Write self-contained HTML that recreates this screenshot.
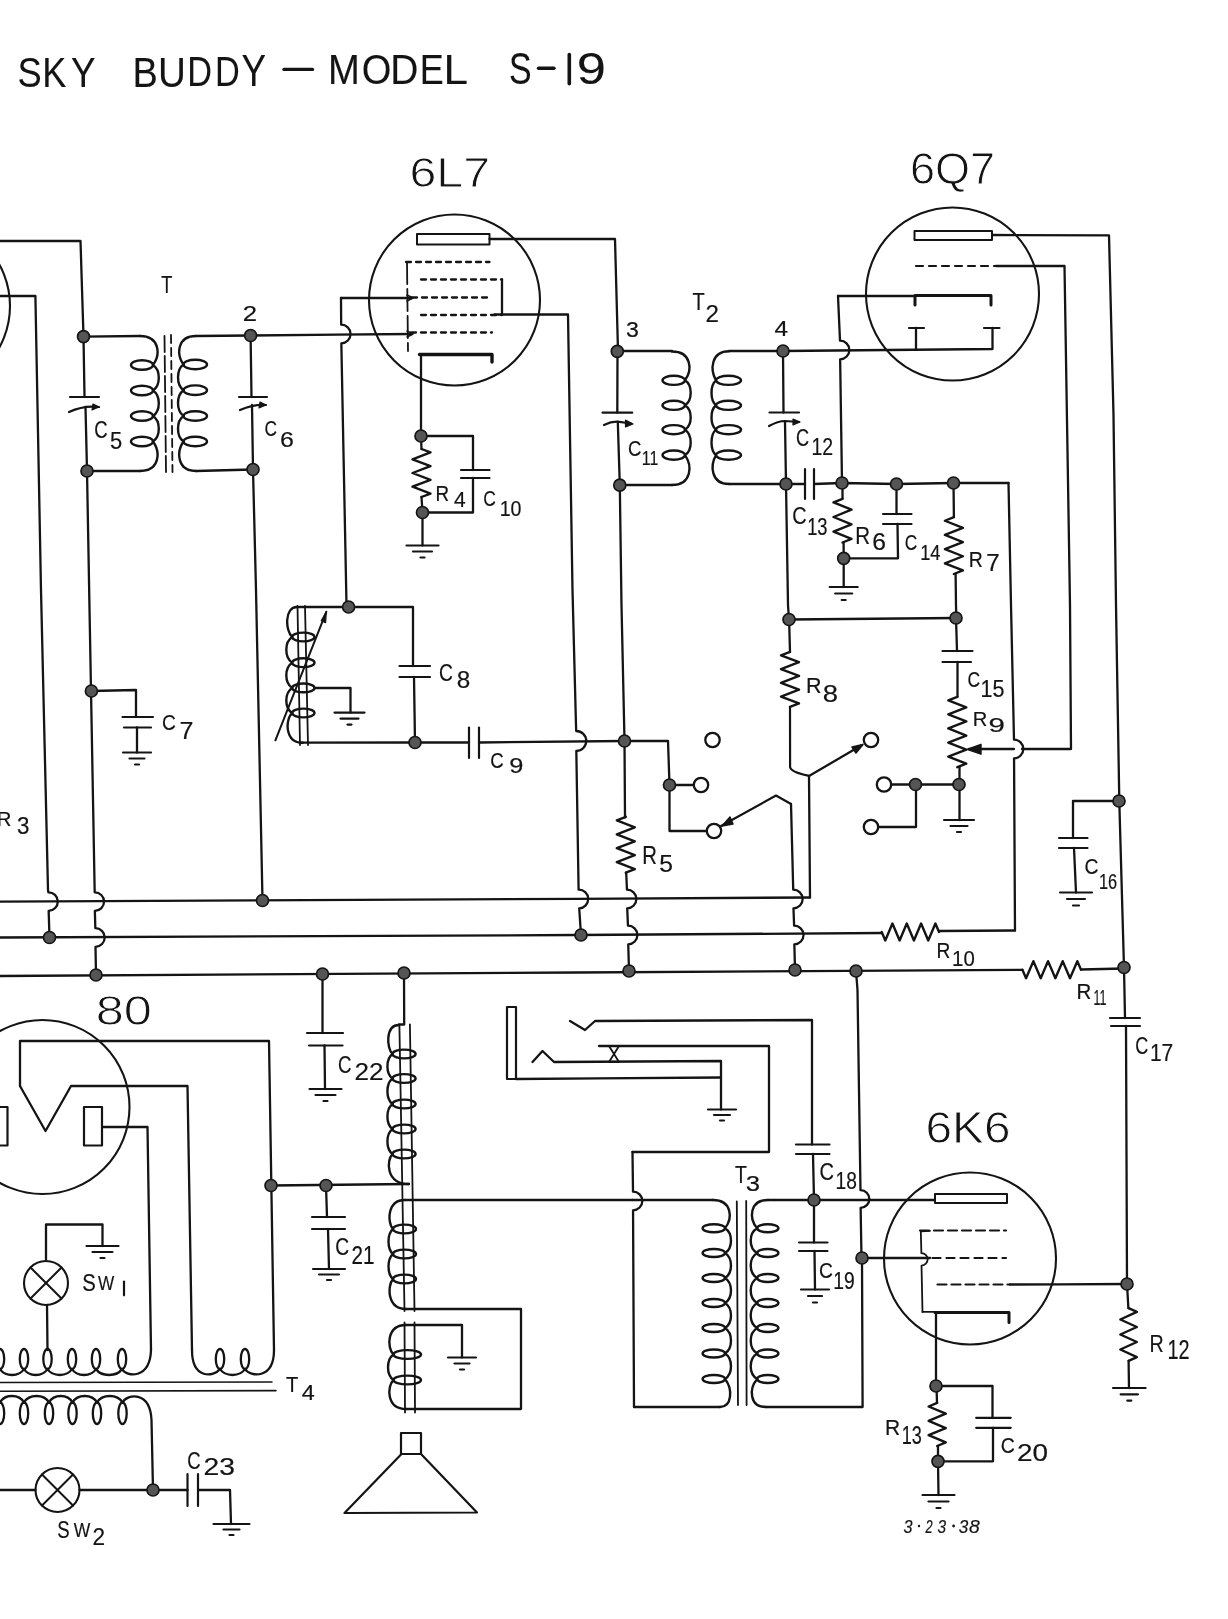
<!DOCTYPE html>
<html><head><meta charset="utf-8"><style>
html,body{margin:0;padding:0;background:#fff;width:1228px;height:1619px;overflow:hidden}
svg{display:block}
text{font-family:"Liberation Sans",sans-serif}
</style></head><body>
<svg width="1228" height="1619" viewBox="0 0 1228 1619">
<rect width="1228" height="1619" fill="#fff"/>
<g opacity="0.999" fill="none" stroke="#141414" stroke-linecap="round" stroke-linejoin="round">
<text transform="translate(17.46,87.1) scale(0.8535,1)" font-size="42.59" stroke="#141414" stroke-width="0.1" fill="#141414">S</text>
<text transform="translate(42.31,87.1) scale(0.8494,1)" font-size="42.59" stroke="#141414" stroke-width="0.1" fill="#141414">K</text>
<text transform="translate(70.98,86.8) scale(0.8606,1)" font-size="42.73" stroke="#141414" stroke-width="0.1" fill="#141414">Y</text>
<text transform="translate(132.56,86.5) scale(0.8910,1)" font-size="42.59" stroke="#141414" stroke-width="0.1" fill="#141414">B</text>
<text transform="translate(157.91,86.5) scale(0.9001,1)" font-size="42.88" stroke="#141414" stroke-width="0.1" fill="#141414">U</text>
<text transform="translate(187.36,86.3) scale(0.7996,1)" font-size="42.88" stroke="#141414" stroke-width="0.1" fill="#141414">D</text>
<text transform="translate(215.06,86.1) scale(0.7969,1)" font-size="43.02" stroke="#141414" stroke-width="0.1" fill="#141414">D</text>
<text transform="translate(241.38,85.8) scale(0.8434,1)" font-size="43.6" stroke="#141414" stroke-width="0.1" fill="#141414">Y</text>
<text transform="translate(327.94,84.1) scale(0.8972,1)" font-size="42.59" stroke="#141414" stroke-width="0.1" fill="#141414">M</text>
<text transform="translate(361.79,84.1) scale(0.8886,1)" font-size="42.88" stroke="#141414" stroke-width="0.1" fill="#141414">O</text>
<text transform="translate(390.18,84.1) scale(0.9094,1)" font-size="42.88" stroke="#141414" stroke-width="0.1" fill="#141414">D</text>
<text transform="translate(419.72,84.1) scale(0.8387,1)" font-size="42.88" stroke="#141414" stroke-width="0.1" fill="#141414">E</text>
<text transform="translate(443.48,84.1) scale(1.0272,1)" font-size="42.88" stroke="#141414" stroke-width="0.1" fill="#141414">L</text>
<text transform="translate(509.07,84.1) scale(0.7752,1)" font-size="43.75" stroke="#141414" stroke-width="0.1" fill="#141414">S</text>
<text transform="translate(576.64,84.1) scale(1.1994,1)" font-size="43.75" stroke="#141414" stroke-width="0.1" fill="#141414">9</text>
<line x1="284" y1="69.4" x2="312.5" y2="69.4" stroke-width="3.4"/>
<line x1="538.5" y1="68.2" x2="554" y2="68.2" stroke-width="3.4"/>
<line x1="569.3" y1="54.5" x2="569.3" y2="83.8" stroke-width="3.6"/>
<text transform="translate(409.38,187.3) scale(1.1167,1)" font-size="43.31" stroke="#fff" stroke-width="0.9" fill="#141414">6L7</text>
<text transform="translate(909.95,184.3) scale(1.0292,1)" font-size="43.75" stroke="#fff" stroke-width="0.9" fill="#141414">6Q7</text>
<text transform="translate(95.72,1025.3) scale(1.1678,1)" font-size="43.31" stroke="#fff" stroke-width="0.9" fill="#141414">80</text>
<text transform="translate(925.41,1143.3) scale(1.0965,1)" font-size="43.6" stroke="#fff" stroke-width="0.9" fill="#141414">6K6</text>
<circle cx="-76" cy="306" r="86" stroke-width="2.1"/>
<polyline points="0,241 80.5,241 83.5,336.6" stroke-width="2.3"/>
<polyline points="83.5,336.6 84.5,397" stroke-width="2.3"/>
<path d="M85.5,407 L87,471 L94.69,892.3 A9.3,9.3 0 0 1 94.86,910.9 L95.33,928.2 A9.3,9.3 0 0 1 95.5,946.8 L96,975" stroke-width="2.3" fill="none"/>
<path d="M0,296 L35.4,296 L41,590 L48,890 L48.37,892.3 A9.3,9.3 0 0 1 48.66,910.9 L49.5,937.5" stroke-width="2.3" fill="none"/>
<line x1="70" y1="397" x2="99" y2="397" stroke-width="2.2"/>
<path d="M69,412 Q84,405 99,407" stroke-width="2.2" fill="none"/>
<path d="M93,404 L99,407 L92,410 Z" stroke-width="1.2" fill="#141414"/>
<text transform="translate(94.28,437.5) scale(0.7683,1)" font-size="23.98" stroke="#141414" stroke-width="0.2" fill="#141414">C</text>
<text transform="translate(109.92,448.5) scale(0.9415,1)" font-size="23.26" stroke="#141414" stroke-width="0.2" fill="#141414">5</text>
<line x1="239" y1="397" x2="267" y2="397" stroke-width="2.2"/>
<path d="M240,410 Q254,404 266,405" stroke-width="2.2" fill="none"/>
<path d="M260,402 L266,405 L259,408 Z" stroke-width="1.2" fill="#141414"/>
<polyline points="250.6,335.5 251.5,397" stroke-width="2.3"/>
<path d="M252,405 L253,469.5 L256,590 L262.5,900.5" stroke-width="2.3" fill="none"/>
<text transform="translate(264.53,435.8) scale(0.7543,1)" font-size="22.97" stroke="#141414" stroke-width="0.2" fill="#141414">C</text>
<text transform="translate(280.05,446.8) scale(1.1218,1)" font-size="22.24" stroke="#141414" stroke-width="0.2" fill="#141414">6</text>
<text transform="translate(161.24,293.2) scale(0.7895,1)" font-size="23.11" stroke="#141414" stroke-width="0.2" fill="#141414">T</text>
<text transform="translate(242.71,320.7) scale(1.1716,1)" font-size="21.95" stroke="#141414" stroke-width="0.2" fill="#141414">2</text>
<polyline points="83.5,336.6 140,336" stroke-width="2.3"/>
<ellipse cx="142" cy="365" rx="11" ry="4.8" stroke-width="2.4"/>
<ellipse cx="142" cy="390.5" rx="11" ry="4.8" stroke-width="2.4"/>
<ellipse cx="142" cy="416" rx="11" ry="4.8" stroke-width="2.4"/>
<ellipse cx="142" cy="441.5" rx="11" ry="4.8" stroke-width="2.4"/>
<path d="M140,336 C159.96,336 160.54,354.85 153,365 C160.71,370.1 160.71,385.4 153,390.5 C160.71,395.6 160.71,410.9 153,416 C160.71,421.1 160.71,436.4 153,441.5 C160.54,451.82 159.96,471 140,471" stroke-width="2.4" fill="none"/>
<polyline points="87,471 140,471" stroke-width="2.3"/>
<ellipse cx="195.25" cy="364.5" rx="11.75" ry="4.8" stroke-width="2.4"/>
<ellipse cx="195.25" cy="390.2" rx="11.75" ry="4.8" stroke-width="2.4"/>
<ellipse cx="195.25" cy="416" rx="11.75" ry="4.8" stroke-width="2.4"/>
<ellipse cx="195.25" cy="441.5" rx="11.75" ry="4.8" stroke-width="2.4"/>
<path d="M196,336 C176.9,336 176.35,354.52 183.5,364.5 C176.19,369.64 176.19,385.06 183.5,390.2 C176.19,395.36 176.19,410.84 183.5,416 C176.19,421.1 176.19,436.4 183.5,441.5 C176.35,451.82 176.9,471 196,471" stroke-width="2.4" fill="none"/>
<polyline points="196,336 250.6,335.5" stroke-width="2.3"/>
<polyline points="196,471 253,469.5" stroke-width="2.3"/>
<line x1="164.5" y1="336" x2="166" y2="472" stroke-width="1.8" stroke-dasharray="16,4"/>
<line x1="171" y1="335" x2="172.5" y2="472" stroke-width="1.8" stroke-dasharray="8,5"/>
<circle cx="454.5" cy="300" r="85.5" stroke-width="2.1"/>
<rect x="417" y="234" width="72.5" height="10.5" stroke-width="2"/>
<polyline points="489.5,239 615,239 618,351" stroke-width="2.3"/>
<line x1="406" y1="262" x2="489.5" y2="262" stroke-width="2.3" stroke-dasharray="5,5"/>
<line x1="421" y1="279.5" x2="502" y2="279.5" stroke-width="2.3" stroke-dasharray="5,5"/>
<line x1="412" y1="297.5" x2="492" y2="297.5" stroke-width="2.3" stroke-dasharray="5,5"/>
<line x1="421" y1="315" x2="502" y2="315" stroke-width="2.3" stroke-dasharray="5,5"/>
<line x1="411" y1="332.5" x2="492" y2="332.5" stroke-width="2.3" stroke-dasharray="5,5"/>
<line x1="407" y1="262" x2="408" y2="351" stroke-width="1.8" stroke-dasharray="22,5"/>
<polyline points="502,279.5 502,314.5" stroke-width="2.3"/>
<path d="M494.5,314.5 L568,314.5 L572.5,590 L576,725 L576.19,731 A10,10 0 0 1 576.32,751 L578.6,889.7 A9.3,9.3 0 0 1 579.22,908.3 L581,935" stroke-width="2.3" fill="none"/>
<polyline points="412,298 341,298" stroke-width="2.3"/>
<path d="M341,298 L341.16,324.7 A9.3,9.3 0 0 1 341.34,343.3 L346.5,605 L348.6,607" stroke-width="2.3" fill="none"/>
<path d="M407,295 L413,298 L407,301" stroke-width="1.6" fill="none"/>
<polyline points="250.6,335.5 412,334" stroke-width="2.3"/>
<path d="M407,331 L413,334 L407,337" stroke-width="1.6" fill="none"/>
<polyline points="419.5,354.5 492,354.5 492,362" stroke-width="3.4"/>
<polyline points="421,354.5 421,436 421.5,449" stroke-width="2.3"/>
<polyline points="421.5,497 422.5,512.5 422.5,545.5" stroke-width="2.3"/>
<polyline points="421,436 473,436 473,470" stroke-width="2.3"/>
<polyline points="473,478 473,512.5 422.5,512.5" stroke-width="2.3"/>
<line x1="461" y1="470" x2="489.5" y2="470" stroke-width="2.2"/>
<line x1="461" y1="478" x2="489.5" y2="478" stroke-width="2.2"/>

<line x1="406.5" y1="545.5" x2="438.5" y2="545.5" stroke-width="2.2"/>
<line x1="413" y1="551.5" x2="432" y2="551.5" stroke-width="2.2"/>
<line x1="420.5" y1="557.5" x2="424.5" y2="557.5" stroke-width="2.2"/>
<polyline points="421.5,449 430.5,452.43 412.5,459.29 430.5,466.14 412.5,473 430.5,479.86 412.5,486.71 430.5,493.57 421.5,497" stroke-width="2.4"/>
<text transform="translate(435.49,501) scale(0.8750,1)" font-size="21.51" stroke="#141414" stroke-width="0.2" fill="#141414">R</text>
<text transform="translate(454.08,506.8) scale(0.9758,1)" font-size="21.51" stroke="#141414" stroke-width="0.2" fill="#141414">4</text>
<text transform="translate(483.33,506) scale(0.7612,1)" font-size="22.97" stroke="#141414" stroke-width="0.2" fill="#141414">C</text>
<text transform="translate(499.63,515.8) scale(0.8814,1)" font-size="22.24" stroke="#141414" stroke-width="0.2" fill="#141414">10</text>
<text transform="translate(625.97,336.7) scale(1.0346,1)" font-size="22.38" stroke="#141414" stroke-width="0.2" fill="#141414">3</text>
<polyline points="617.5,351 617.3,412.7" stroke-width="2.3"/>
<line x1="602.5" y1="412.7" x2="632.2" y2="412.7" stroke-width="2.2"/>
<path d="M604,425 Q611,421.5 617.6,421.7 L631,423.5" stroke-width="2.2" fill="none"/>
<path d="M625.5,420 L633,424 L625.5,427 Z" stroke-width="1.2" fill="#141414"/>
<path d="M617.8,422 L619.8,485.2 L621.5,605 L624.5,741 L625,817.5" stroke-width="2.3" fill="none"/>
<text transform="translate(628.07,455.7) scale(0.8092,1)" font-size="22.97" stroke="#141414" stroke-width="0.2" fill="#141414">C</text>
<text transform="translate(641.81,464.9) scale(0.7678,1)" font-size="20.64" stroke="#141414" stroke-width="0.2" fill="#141414">11</text>
<polyline points="618,351 672,351" stroke-width="2.3"/>
<ellipse cx="673.75" cy="380.3" rx="11.25" ry="4.6" stroke-width="2.4"/>
<ellipse cx="673.75" cy="405.3" rx="11.25" ry="4.6" stroke-width="2.4"/>
<ellipse cx="673.75" cy="429.7" rx="11.25" ry="4.6" stroke-width="2.4"/>
<ellipse cx="673.75" cy="455.1" rx="11.25" ry="4.6" stroke-width="2.4"/>
<path d="M672,351.5 C691.84,351.5 692.41,370.22 685,380.3 C692.58,385.3 692.58,400.3 685,405.3 C692.58,410.18 692.58,424.82 685,429.7 C692.58,434.78 692.58,450.02 685,455.1 C692.41,465.56 691.84,485 672,485" stroke-width="2.4" fill="none"/>
<polyline points="620,485 672,485" stroke-width="2.3"/>
<ellipse cx="728.5" cy="380.3" rx="12.5" ry="4.6" stroke-width="2.4"/>
<ellipse cx="728.5" cy="405.3" rx="12.5" ry="4.6" stroke-width="2.4"/>
<ellipse cx="728.5" cy="429.7" rx="12.5" ry="4.6" stroke-width="2.4"/>
<ellipse cx="728.5" cy="455.1" rx="12.5" ry="4.6" stroke-width="2.4"/>
<path d="M729,351.3 C710.6,351.3 710.15,370.15 716,380.3 C710.01,385.3 710.01,400.3 716,405.3 C710.01,410.18 710.01,424.82 716,429.7 C710.01,434.78 710.01,450.02 716,455.1 C710.15,465.22 710.6,484 729,484" stroke-width="2.4" fill="none"/>
<polyline points="729,351 783,351" stroke-width="2.3"/>
<polyline points="729,484 786,484" stroke-width="2.3"/>
<text transform="translate(692.5,310) scale(0.8654,1)" font-size="23.11" stroke="#141414" stroke-width="0.2" fill="#141414">T</text>
<text transform="translate(705.49,321.6) scale(1.0204,1)" font-size="23.69" stroke="#141414" stroke-width="0.2" fill="#141414">2</text>
<text transform="translate(774.61,335.5) scale(1.0881,1)" font-size="22.38" stroke="#141414" stroke-width="0.2" fill="#141414">4</text>
<polyline points="783,351 783.5,412.5" stroke-width="2.3"/>
<line x1="769.5" y1="412.5" x2="799" y2="412.5" stroke-width="2.2"/>
<path d="M769,426 Q778,421 785,421 L799,422" stroke-width="2.2" fill="none"/>
<path d="M793,419 L800,422 L793,425 Z" stroke-width="1.2" fill="#141414"/>
<path d="M785,422 L786,484 L788,605 L789,619.5" stroke-width="2.3" fill="none"/>
<text transform="translate(796.09,445.7) scale(0.7506,1)" font-size="24.13" stroke="#141414" stroke-width="0.2" fill="#141414">C</text>
<text transform="translate(811.54,455.4) scale(0.8030,1)" font-size="24.27" stroke="#141414" stroke-width="0.2" fill="#141414">12</text>
<polyline points="783,351 992.5,349 992.5,328" stroke-width="2.3"/>
<line x1="984" y1="328" x2="999.5" y2="328" stroke-width="2.2"/>
<polyline points="916,349.5 916,328" stroke-width="2.3"/>
<line x1="909" y1="328" x2="924" y2="328" stroke-width="2.2"/>
<polyline points="915,296 838,296" stroke-width="2.3"/>
<path d="M838,296 L840,340.7 A9.3,9.3 0 0 1 840.14,359.3 L842,483" stroke-width="2.3" fill="none"/>
<polyline points="786,484 805,484" stroke-width="2.3"/>
<line x1="805" y1="469" x2="805" y2="499" stroke-width="2.2"/>
<line x1="814" y1="469" x2="814" y2="499" stroke-width="2.2"/>
<polyline points="814,484 842,483 896.5,484 953.5,483 1008.5,483" stroke-width="2.3"/>
<text transform="translate(792.31,523.9) scale(0.8375,1)" font-size="23.69" stroke="#141414" stroke-width="0.2" fill="#141414">C</text>
<text transform="translate(807.13,535.4) scale(0.7915,1)" font-size="23.11" stroke="#141414" stroke-width="0.2" fill="#141414">13</text>
<polyline points="842.5,483 842.5,498.8" stroke-width="2.3"/>
<polyline points="842.5,498.8 833.5,502.44 851.5,509.73 833.5,517.01 851.5,524.29 833.5,531.58 851.5,538.86 842.5,542.5" stroke-width="2.4"/>
<polyline points="843.6,542.5 843.7,558.3 843.7,587" stroke-width="2.3"/>
<line x1="829.7" y1="587" x2="857.7" y2="587" stroke-width="2.2"/>
<line x1="835.2" y1="593.5" x2="852.2" y2="593.5" stroke-width="2.2"/>
<line x1="841.7" y1="600" x2="845.7" y2="600" stroke-width="2.2"/>
<text transform="translate(855.36,544.4) scale(0.8655,1)" font-size="23.69" stroke="#141414" stroke-width="0.2" fill="#141414">R</text>
<text transform="translate(872.26,550) scale(1.0439,1)" font-size="23.69" stroke="#141414" stroke-width="0.2" fill="#141414">6</text>
<polyline points="896.5,484 896.5,514" stroke-width="2.3"/>
<line x1="883" y1="514" x2="911.5" y2="514" stroke-width="2.2"/>
<line x1="883" y1="524" x2="911.5" y2="524" stroke-width="2.2"/>
<polyline points="897.5,524 898,558.3 843.7,558.3" stroke-width="2.3"/>
<text transform="translate(904.73,549.5) scale(0.7841,1)" font-size="22.09" stroke="#141414" stroke-width="0.2" fill="#141414">C</text>
<text transform="translate(920.13,559.8) scale(0.8581,1)" font-size="21.22" stroke="#141414" stroke-width="0.2" fill="#141414">14</text>
<polyline points="953.5,483 953.9,517.2" stroke-width="2.3"/>
<polyline points="953.9,517.2 944.9,520.75 962.9,527.85 944.9,534.95 962.9,542.05 944.9,549.15 962.9,556.25 944.9,563.35 962.9,570.45 953.9,574" stroke-width="2.4"/>
<path d="M955.6,574 L956,605 L956.3,618.6" stroke-width="2.3" fill="none"/>
<text transform="translate(968.74,566.5) scale(0.8824,1)" font-size="22.09" stroke="#141414" stroke-width="0.2" fill="#141414">R</text>
<text transform="translate(986.19,571.4) scale(1.0461,1)" font-size="23.11" stroke="#141414" stroke-width="0.2" fill="#141414">7</text>
<circle cx="952.5" cy="294" r="86.5" stroke-width="2.1"/>
<rect x="914.5" y="231" width="77.5" height="9" stroke-width="2"/>
<polyline points="992,235 1109,235.3 1113.5,415 1116,605 1119.3,801.5 1124,967.5 1125,1018" stroke-width="2.3"/>
<line x1="916" y1="266" x2="996" y2="266" stroke-width="2.2" stroke-dasharray="7,6"/>
<polyline points="996,266 1064.5,266 1070,605 1071,749 1022,749" stroke-width="2.3"/>
<polyline points="915,305 915,295.5 991,295.5 991,305" stroke-width="3"/>
<polyline points="91.4,691 136,690 136,717" stroke-width="2.3"/>
<line x1="122.5" y1="717" x2="153" y2="717" stroke-width="2.2"/>
<line x1="124" y1="727.5" x2="151" y2="727.5" stroke-width="2.2"/>
<polyline points="137,727.5 137,752.5" stroke-width="2.3"/>
<line x1="123" y1="752.5" x2="151" y2="752.5" stroke-width="2.2"/>
<line x1="129.5" y1="758.5" x2="144.5" y2="758.5" stroke-width="2.2"/>
<line x1="135" y1="764.5" x2="139" y2="764.5" stroke-width="2.2"/>
<text transform="translate(161.94,729.9) scale(0.8812,1)" font-size="21.8" stroke="#141414" stroke-width="0.2" fill="#141414">C</text>
<text transform="translate(179.55,739.1) scale(1.0575,1)" font-size="23.69" stroke="#141414" stroke-width="0.2" fill="#141414">7</text>
<text transform="translate(-3.13,826.2) scale(1.0139,1)" font-size="20.06" stroke="#141414" stroke-width="0.2" fill="#141414">R</text>
<text transform="translate(17.01,834.2) scale(0.9194,1)" font-size="24.27" stroke="#141414" stroke-width="0.2" fill="#141414">3</text>
<polyline points="0,901.6 577,898.8 810,897.5" stroke-width="2.3"/>
<polyline points="0,937.5 577,935 881.7,933" stroke-width="2.3"/>
<polyline points="0,976 577,972.5 1022.4,969.8" stroke-width="2.3"/>
<ellipse cx="303.35" cy="637" rx="11.15" ry="4.4" stroke-width="2.4"/>
<ellipse cx="303.35" cy="662.7" rx="11.15" ry="4.4" stroke-width="2.4"/>
<ellipse cx="303.35" cy="687.9" rx="11.15" ry="4.4" stroke-width="2.4"/>
<ellipse cx="303.35" cy="713" rx="11.15" ry="4.4" stroke-width="2.4"/>
<path d="M297,607 C284.3,607 285.3,631 292.2,637 C284.35,642.14 284.35,657.56 292.2,662.7 C284.35,667.74 284.35,682.86 292.2,687.9 C284.35,692.92 284.35,707.98 292.2,713 C285.3,719 284.3,742.7 302.6,742.7" stroke-width="2.4" fill="none"/>
<polyline points="297,607 348.6,607" stroke-width="2.3"/>
<line x1="297.5" y1="606" x2="300" y2="745" stroke-width="1.8"/>
<line x1="305" y1="606" x2="308" y2="745" stroke-width="1.8"/>
<polyline points="314.5,688 350.5,688 350.5,712.6" stroke-width="2.3"/>
<line x1="334.5" y1="712.6" x2="364.5" y2="712.6" stroke-width="2.2"/>
<line x1="340.5" y1="718.6" x2="358.5" y2="718.6" stroke-width="2.2"/>
<line x1="347.5" y1="724.6" x2="351.5" y2="724.6" stroke-width="2.2"/>
<line x1="275.4" y1="740.3" x2="326.3" y2="611.8" stroke-width="2"/>
<path d="M326.3,611.8 L321.2,620.8 L325.6,622.6 Z" stroke-width="1.2" fill="#141414"/>
<polyline points="300,742.7 415,742.5 469,742.5" stroke-width="2.3"/>
<polyline points="348.6,607 413,607 413,666" stroke-width="2.3"/>
<line x1="399.5" y1="666" x2="430" y2="666" stroke-width="2.2"/>
<line x1="399.5" y1="677" x2="430" y2="677" stroke-width="2.2"/>
<polyline points="414,677 415,742.5" stroke-width="2.3"/>
<text transform="translate(438.94,680.9) scale(0.7915,1)" font-size="24.27" stroke="#141414" stroke-width="0.2" fill="#141414">C</text>
<text transform="translate(456.71,688.2) scale(1.0495,1)" font-size="23.11" stroke="#141414" stroke-width="0.2" fill="#141414">8</text>
<line x1="469" y1="727.5" x2="469" y2="758" stroke-width="2.2"/>
<line x1="479" y1="727.5" x2="479" y2="758" stroke-width="2.2"/>
<polyline points="479,742.5 624.5,741 668,741 669.5,785 669.5,831 706,831" stroke-width="2.3"/>
<polyline points="669.5,785 694,785" stroke-width="2.3"/>
<circle cx="701" cy="785" r="7.2" stroke-width="2.3"/>
<circle cx="714" cy="831" r="7.2" stroke-width="2.3"/>
<circle cx="712.5" cy="740" r="7.2" stroke-width="2.3"/>
<text transform="translate(490.27,768.4) scale(0.8248,1)" font-size="22.53" stroke="#141414" stroke-width="0.2" fill="#141414">C</text>
<text transform="translate(509.16,773.3) scale(1.1877,1)" font-size="21.37" stroke="#141414" stroke-width="0.2" fill="#141414">9</text>
<polyline points="625.8,816.8 616.8,820.29 634.8,827.28 616.8,834.27 634.8,841.26 616.8,848.24 634.8,855.23 616.8,862.22 634.8,869.21 625.8,872.7" stroke-width="2.4"/>
<path d="M626.2,872.7 L626.95,889.7 A9.3,9.3 0 0 1 627.21,908.3 L627.97,925.7 A9.3,9.3 0 0 1 628.24,944.3 L629,971" stroke-width="2.3" fill="none"/>
<text transform="translate(642.27,863.7) scale(0.8182,1)" font-size="24.85" stroke="#141414" stroke-width="0.2" fill="#141414">R</text>
<text transform="translate(659.21,871.5) scale(1.0397,1)" font-size="23.69" stroke="#141414" stroke-width="0.2" fill="#141414">5</text>
<path d="M721,826 L776,795.5 L791,804" stroke-width="2.2" fill="none"/>
<path d="M722,826 L730,817 L733,824 Z" stroke-width="1.5" fill="#141414"/>
<path d="M791,804 L793.23,889.7 A9.3,9.3 0 0 1 793.46,908.3 L794.12,925.7 A9.3,9.3 0 0 1 794.36,944.3 L795,970" stroke-width="2.3" fill="none"/>
<polyline points="789.1,619.1 790,651.9" stroke-width="2.3"/>
<polyline points="790,651.9 781,655.34 799,662.21 781,669.09 799,675.96 781,682.84 799,689.71 781,696.59 799,703.46 790,706.9" stroke-width="2.4"/>
<path d="M790,706.9 L790.1,767.3 Q791,772 808.1,775.7" stroke-width="2.2" fill="none"/>
<path d="M809,776 L862,745" stroke-width="2.2" fill="none"/>
<path d="M863,744.5 L852,747 L856,753 Z" stroke-width="1.5" fill="#141414"/>
<polyline points="809,776 810,897.5" stroke-width="2.3"/>
<text transform="translate(805.98,693.2) scale(0.9611,1)" font-size="22.38" stroke="#141414" stroke-width="0.2" fill="#141414">R</text>
<text transform="translate(822.66,701.6) scale(1.1876,1)" font-size="23.11" stroke="#141414" stroke-width="0.2" fill="#141414">8</text>
<polyline points="789,619.5 956,618" stroke-width="2.3"/>
<polyline points="956,618 957,651" stroke-width="2.3"/>
<line x1="942.5" y1="651" x2="972.5" y2="651" stroke-width="2.2"/>
<line x1="942.5" y1="662" x2="971" y2="662" stroke-width="2.2"/>
<polyline points="957.5,662 957.5,696.8" stroke-width="2.3"/>
<polyline points="957.3,696.8 948.3,700.32 966.3,707.36 948.3,714.4 966.3,721.44 948.3,728.48 966.3,735.52 948.3,742.56 966.3,749.6 948.3,756.64 966.3,763.68 957.3,767.2" stroke-width="2.4"/>
<polyline points="959.5,767.2 959.5,784.2 959.5,820.2" stroke-width="2.3"/>
<line x1="944" y1="820" x2="974" y2="820" stroke-width="2.2"/>
<line x1="950.5" y1="826" x2="967.5" y2="826" stroke-width="2.2"/>
<line x1="957" y1="832" x2="961" y2="832" stroke-width="2.2"/>
<text transform="translate(967.53,687) scale(0.8018,1)" font-size="21.8" stroke="#141414" stroke-width="0.2" fill="#141414">C</text>
<text transform="translate(980.49,696.6) scale(0.9134,1)" font-size="23.55" stroke="#141414" stroke-width="0.2" fill="#141414">15</text>
<text transform="translate(972.79,725.7) scale(0.9569,1)" font-size="21.08" stroke="#141414" stroke-width="0.2" fill="#141414">R</text>
<text transform="translate(988.47,732.3) scale(1.4376,1)" font-size="20.49" stroke="#141414" stroke-width="0.2" fill="#141414">9</text>
<path d="M967,749.3 L981,744.3 L981,754.2 Z" stroke-width="1.4" fill="#141414"/>
<polyline points="969,749 1014,749" stroke-width="2.3"/>
<path d="M1008.5,483 L1011,605 L1014,739.7 A9.3,9.3 0 0 1 1014.05,758.3 L1015,930.5" stroke-width="2.3" fill="none"/>
<polyline points="1015,930.5 939,931" stroke-width="2.3"/>
<polyline points="881.7,932 885.28,940.5 892.44,923.5 899.61,940.5 906.77,923.5 913.93,940.5 921.09,923.5 928.26,940.5 935.42,923.5 939,932" stroke-width="2.4"/>
<text transform="translate(936.57,958.3) scale(0.8504,1)" font-size="22.53" stroke="#141414" stroke-width="0.2" fill="#141414">R</text>
<text transform="translate(952.07,966.2) scale(0.9357,1)" font-size="21.8" stroke="#141414" stroke-width="0.2" fill="#141414">10</text>
<circle cx="871" cy="740" r="7.2" stroke-width="2.3"/>
<circle cx="884" cy="784.5" r="7.2" stroke-width="2.3"/>
<circle cx="871" cy="827" r="7.2" stroke-width="2.3"/>
<polyline points="891,784.5 959,784.5" stroke-width="2.3"/>
<polyline points="916,784.5 916,827 878,827" stroke-width="2.3"/>
<polyline points="1119,801 1073,801 1073,838" stroke-width="2.3"/>
<line x1="1059" y1="838" x2="1087.5" y2="838" stroke-width="2.2"/>
<line x1="1059" y1="848" x2="1087.5" y2="848" stroke-width="2.2"/>
<polyline points="1074,848 1076,892.5" stroke-width="2.3"/>
<line x1="1060" y1="892.5" x2="1092" y2="892.5" stroke-width="2.2"/>
<line x1="1067" y1="899" x2="1085" y2="899" stroke-width="2.2"/>
<line x1="1073" y1="905.5" x2="1079" y2="905.5" stroke-width="2.2"/>
<text transform="translate(1084.53,874.2) scale(0.8884,1)" font-size="21.8" stroke="#141414" stroke-width="0.2" fill="#141414">C</text>
<text transform="translate(1098.97,888.9) scale(0.7464,1)" font-size="21.95" stroke="#141414" stroke-width="0.2" fill="#141414">16</text>
<polyline points="1022.4,969.7 1026.06,978.2 1033.39,961.2 1040.71,978.2 1048.04,961.2 1055.36,978.2 1062.69,961.2 1070.01,978.2 1077.34,961.2 1081,969.7" stroke-width="2.4"/>
<polyline points="1081,969.5 1124,968.5" stroke-width="2.3"/>
<text transform="translate(1076.56,999) scale(0.9662,1)" font-size="21.22" stroke="#141414" stroke-width="0.2" fill="#141414">R</text>
<text transform="translate(1093.57,1004.7) scale(0.5831,1)" font-size="21.37" stroke="#141414" stroke-width="0.2" fill="#141414">11</text>
<line x1="1110" y1="1018" x2="1140" y2="1018" stroke-width="2.2"/>
<line x1="1111" y1="1026" x2="1140" y2="1026" stroke-width="2.2"/>
<polyline points="1126,1026 1127,1284" stroke-width="2.3"/>
<text transform="translate(1135.3,1053.7) scale(0.7578,1)" font-size="23.69" stroke="#141414" stroke-width="0.2" fill="#141414">C</text>
<text transform="translate(1149.93,1060.8) scale(0.9049,1)" font-size="23.11" stroke="#141414" stroke-width="0.2" fill="#141414">17</text>
<polyline points="1127,1284 1128.4,1308.2" stroke-width="2.3"/>
<polyline points="1128.6,1308.2 1136.9,1311.96 1120.3,1319.47 1136.9,1326.99 1120.3,1334.5 1136.9,1342.01 1120.3,1349.53 1136.9,1357.04 1128.6,1360.8" stroke-width="2.4"/>
<polyline points="1128.6,1360.8 1129,1388" stroke-width="2.3"/>
<line x1="1113" y1="1388" x2="1145.6" y2="1388" stroke-width="2.2"/>
<line x1="1120.65" y1="1394.3" x2="1137.95" y2="1394.3" stroke-width="2.2"/>
<line x1="1127.3" y1="1400.6" x2="1131.3" y2="1400.6" stroke-width="2.2"/>
<text transform="translate(1149.43,1351.7) scale(0.8150,1)" font-size="24.13" stroke="#141414" stroke-width="0.2" fill="#141414">R</text>
<text transform="translate(1167.51,1359.1) scale(0.7360,1)" font-size="27.03" stroke="#141414" stroke-width="0.2" fill="#141414">12</text>
<circle cx="42.5" cy="1107" r="87" stroke-width="2.1"/>
<polyline points="20,1086 20,1041 269,1041 274,1350" stroke-width="2.3"/>
<polyline points="20,1086 45.5,1131 71,1086 187.5,1086 192,1350" stroke-width="2.3"/>
<rect x="84" y="1107" width="18" height="38.5" stroke-width="2.2"/>
<rect x="-10" y="1107" width="17.5" height="38.5" stroke-width="2.2"/>
<polyline points="102,1127 147.5,1127 151,1350" stroke-width="2.3"/>
<polyline points="271,1185.5 409,1184" stroke-width="2.3"/>
<circle cx="46" cy="1283" r="22" stroke-width="2.1"/>
<line x1="30.5" y1="1267.5" x2="61.5" y2="1298.5" stroke-width="2"/>
<line x1="30.5" y1="1298.5" x2="61.5" y2="1267.5" stroke-width="2"/>
<polyline points="46,1261 46,1224.5 102.5,1224.5 102.5,1246" stroke-width="2.3"/>
<line x1="86.5" y1="1246" x2="118.5" y2="1246" stroke-width="2.2"/>
<line x1="92.5" y1="1252" x2="112.5" y2="1252" stroke-width="2.2"/>
<line x1="100.5" y1="1258" x2="104.5" y2="1258" stroke-width="2.2"/>
<polyline points="47,1305 47.5,1350" stroke-width="2.3"/>
<text transform="translate(82.18,1291.4) scale(0.8383,1)" font-size="24.27" stroke="#141414" stroke-width="0.2" fill="#141414">S</text>
<text transform="translate(98.11,1289.9) scale(0.8227,1)" font-size="20.93" stroke="#141414" stroke-width="0.2" fill="#141414">W</text>
<line x1="124" y1="1281.6" x2="124" y2="1295.3" stroke-width="2.2"/>
<ellipse cx="-24" cy="1359" rx="4.2" ry="10" stroke-width="2.3"/>
<ellipse cx="0" cy="1359" rx="4.2" ry="10" stroke-width="2.3"/>
<ellipse cx="24" cy="1359" rx="4.2" ry="10" stroke-width="2.3"/>
<ellipse cx="47.5" cy="1359" rx="4.2" ry="10" stroke-width="2.3"/>
<ellipse cx="72" cy="1359" rx="4.2" ry="10" stroke-width="2.3"/>
<ellipse cx="96" cy="1359" rx="4.2" ry="10" stroke-width="2.3"/>
<ellipse cx="122" cy="1359" rx="4.2" ry="10" stroke-width="2.3"/>
<path d="M-24,1369 C-19.2,1376.98 -4.8,1376.98 0,1369 C4.8,1376.98 19.2,1376.98 24,1369 C28.7,1376.98 42.8,1376.98 47.5,1369 C52.4,1376.98 67.1,1376.98 72,1369 C76.8,1376.98 91.2,1376.98 96,1369 C101.2,1376.98 116.8,1376.98 122,1369" stroke-width="2.3" fill="none"/>
<path d="M122,1369 C126,1377 150,1380 151,1350" stroke-width="2.3" fill="none"/>
<ellipse cx="220" cy="1359" rx="4.2" ry="10" stroke-width="2.3"/>
<ellipse cx="245" cy="1359" rx="4.2" ry="10" stroke-width="2.3"/>
<path d="M220,1369 C225,1376.98 240,1376.98 245,1369" stroke-width="2.3" fill="none"/>
<path d="M220,1369 C214,1377 192,1380 192,1350" stroke-width="2.3" fill="none"/>
<path d="M245,1369 C250,1377 274,1380 274,1350" stroke-width="2.3" fill="none"/>
<line x1="0" y1="1382.5" x2="272" y2="1382" stroke-width="1.6"/>
<line x1="0" y1="1391.2" x2="276" y2="1390.6" stroke-width="1.6"/>
<text transform="translate(286,1392.1) scale(0.9113,1)" font-size="21.95" stroke="#141414" stroke-width="0.2" fill="#141414">T</text>
<text transform="translate(301.73,1399.7) scale(1.0439,1)" font-size="22.38" stroke="#141414" stroke-width="0.2" fill="#141414">4</text>
<ellipse cx="-24" cy="1413.25" rx="4.2" ry="10.75" stroke-width="2.3"/>
<ellipse cx="0" cy="1413.25" rx="4.2" ry="10.75" stroke-width="2.3"/>
<ellipse cx="24" cy="1413.25" rx="4.2" ry="10.75" stroke-width="2.3"/>
<ellipse cx="49" cy="1413.25" rx="4.2" ry="10.75" stroke-width="2.3"/>
<ellipse cx="72.5" cy="1413.25" rx="4.2" ry="10.75" stroke-width="2.3"/>
<ellipse cx="97" cy="1413.25" rx="4.2" ry="10.75" stroke-width="2.3"/>
<ellipse cx="122.5" cy="1413.25" rx="4.2" ry="10.75" stroke-width="2.3"/>
<path d="M-24,1402.5 C-19.2,1393.86 -4.8,1393.86 0,1402.5 C4.8,1393.86 19.2,1393.86 24,1402.5 C29,1393.86 44,1393.86 49,1402.5 C53.7,1393.86 67.8,1393.86 72.5,1402.5 C77.4,1393.86 92.1,1393.86 97,1402.5 C102.1,1393.86 117.4,1393.86 122.5,1402.5" stroke-width="2.3" fill="none"/>
<path d="M122.5,1402.5 C127,1394 150,1390 151.5,1420 L153,1490" stroke-width="2.3" fill="none"/>
<polyline points="0,1490 35.5,1490" stroke-width="2.3"/>
<circle cx="57.5" cy="1490" r="22" stroke-width="2.1"/>
<line x1="42" y1="1474.5" x2="73" y2="1505.5" stroke-width="2"/>
<line x1="42" y1="1505.5" x2="73" y2="1474.5" stroke-width="2"/>
<polyline points="79.5,1490 187.5,1490" stroke-width="2.3"/>
<line x1="187.5" y1="1474" x2="187.5" y2="1506" stroke-width="2.2"/>
<line x1="198" y1="1474" x2="198" y2="1506" stroke-width="2.2"/>
<polyline points="198,1490 230,1490 231,1524" stroke-width="2.3"/>
<line x1="213.5" y1="1524" x2="249.5" y2="1524" stroke-width="2.2"/>
<line x1="223.5" y1="1529.5" x2="239.5" y2="1529.5" stroke-width="2.2"/>
<line x1="229.5" y1="1535" x2="233.5" y2="1535" stroke-width="2.2"/>
<text transform="translate(187.18,1468.5) scale(0.7683,1)" font-size="23.98" stroke="#141414" stroke-width="0.2" fill="#141414">C</text>
<text transform="translate(203.49,1474.6) scale(1.1773,1)" font-size="23.98" stroke="#141414" stroke-width="0.2" fill="#141414">23</text>
<text transform="translate(57.26,1538.1) scale(0.7903,1)" font-size="23.55" stroke="#141414" stroke-width="0.2" fill="#141414">S</text>
<text transform="translate(73.81,1536.6) scale(0.8559,1)" font-size="20.49" stroke="#141414" stroke-width="0.2" fill="#141414">W</text>
<text transform="translate(92.57,1545.2) scale(0.9614,1)" font-size="23.55" stroke="#141414" stroke-width="0.2" fill="#141414">2</text>
<polyline points="322.5,974 322.5,1033" stroke-width="2.3"/>
<line x1="307" y1="1033" x2="343" y2="1033" stroke-width="2.2"/>
<line x1="309" y1="1045.5" x2="342.5" y2="1045.5" stroke-width="2.2"/>
<polyline points="324.5,1045.5 325,1089" stroke-width="2.3"/>
<line x1="309.5" y1="1089" x2="341.5" y2="1089" stroke-width="2.2"/>
<line x1="315.5" y1="1095" x2="335.5" y2="1095" stroke-width="2.2"/>
<line x1="323.5" y1="1101" x2="327.5" y2="1101" stroke-width="2.2"/>
<text transform="translate(338.07,1073.1) scale(0.7656,1)" font-size="24.27" stroke="#141414" stroke-width="0.2" fill="#141414">C</text>
<text transform="translate(354.59,1079.7) scale(1.0965,1)" font-size="23.84" stroke="#141414" stroke-width="0.2" fill="#141414">22</text>
<polyline points="326,1185.5 327,1217" stroke-width="2.3"/>
<line x1="312" y1="1217" x2="345" y2="1217" stroke-width="2.2"/>
<line x1="312" y1="1229" x2="345" y2="1229" stroke-width="2.2"/>
<polyline points="328,1229 329,1269" stroke-width="2.3"/>
<line x1="313" y1="1269" x2="345" y2="1269" stroke-width="2.2"/>
<line x1="319" y1="1274.5" x2="339" y2="1274.5" stroke-width="2.2"/>
<line x1="327" y1="1280" x2="331" y2="1280" stroke-width="2.2"/>
<text transform="translate(335.14,1254.5) scale(0.8011,1)" font-size="23.98" stroke="#141414" stroke-width="0.2" fill="#141414">C</text>
<text transform="translate(351.47,1263.5) scale(0.8276,1)" font-size="25" stroke="#141414" stroke-width="0.2" fill="#141414">21</text>
<polyline points="404,973 404.2,1024.5 399,1024.5" stroke-width="2.3"/>
<ellipse cx="404.05" cy="1054" rx="11.55" ry="4.4" stroke-width="2.4"/>
<ellipse cx="404.05" cy="1078.5" rx="11.55" ry="4.4" stroke-width="2.4"/>
<ellipse cx="404.05" cy="1104" rx="11.55" ry="4.4" stroke-width="2.4"/>
<ellipse cx="404.05" cy="1129" rx="11.55" ry="4.4" stroke-width="2.4"/>
<ellipse cx="404.05" cy="1154" rx="11.55" ry="4.4" stroke-width="2.4"/>
<path d="M399,1025 C385.4,1025 386.4,1048 392.5,1054 C385.72,1058.9 385.72,1073.6 392.5,1078.5 C385.72,1083.6 385.72,1098.9 392.5,1104 C385.72,1109 385.72,1124 392.5,1129 C385.72,1134 385.72,1149 392.5,1154 C386.4,1160 385.4,1184 409,1184" stroke-width="2.4" fill="none"/>
<line x1="399.4" y1="1025" x2="404.5" y2="1311" stroke-width="1.8"/>
<line x1="409.9" y1="1024.3" x2="414.5" y2="1311" stroke-width="1.8"/>
<polyline points="405,1200 632.5,1200" stroke-width="2.3"/>
<ellipse cx="404.5" cy="1229" rx="11.5" ry="4.4" stroke-width="2.4"/>
<ellipse cx="404.5" cy="1254" rx="11.5" ry="4.4" stroke-width="2.4"/>
<ellipse cx="404.5" cy="1279" rx="11.5" ry="4.4" stroke-width="2.4"/>
<path d="M405,1200 C386.5,1200 387.5,1223 393,1229 C387.01,1234 387.01,1249 393,1254 C387.01,1259 387.01,1274 393,1279 C387.5,1285 386.5,1309 406,1309" stroke-width="2.4" fill="none"/>
<polyline points="406,1309 521,1309 521,1409 406,1409" stroke-width="2.3"/>
<ellipse cx="407.25" cy="1354.5" rx="13.75" ry="4.4" stroke-width="2.4"/>
<ellipse cx="407.25" cy="1380" rx="13.75" ry="4.4" stroke-width="2.4"/>
<path d="M406,1325 C386,1325 387,1348.5 393.5,1354.5 C386.19,1359.6 386.19,1374.9 393.5,1380 C387,1386 386,1409 406,1409" stroke-width="2.4" fill="none"/>
<line x1="404.5" y1="1322.5" x2="405" y2="1412.5" stroke-width="1.8"/>
<line x1="414.5" y1="1322.5" x2="415" y2="1412.5" stroke-width="1.8"/>
<polyline points="406,1325 462,1325 462,1357.5" stroke-width="2.3"/>
<line x1="448" y1="1357.5" x2="476" y2="1357.5" stroke-width="2.2"/>
<line x1="454.5" y1="1363.5" x2="469.5" y2="1363.5" stroke-width="2.2"/>
<line x1="460" y1="1369.5" x2="464" y2="1369.5" stroke-width="2.2"/>
<rect x="401" y="1433" width="20" height="21" stroke-width="2.2"/>
<polyline points="401.5,1454 344.5,1513 477,1512.5 421,1454" stroke-width="2.2"/>
<rect x="507" y="1007" width="9" height="72" stroke-width="2.2"/>
<polyline points="516,1079 721,1077.5" stroke-width="2.3"/>
<polyline points="532.5,1062 542.5,1051 554,1062 721,1061 721,1109.5" stroke-width="2.3"/>
<line x1="708" y1="1109.5" x2="736" y2="1109.5" stroke-width="2.2"/>
<line x1="714" y1="1115" x2="730" y2="1115" stroke-width="2.2"/>
<line x1="720" y1="1120.5" x2="724" y2="1120.5" stroke-width="2.2"/>
<path d="M609,1046 L619,1046 L609,1062 L619,1062 Z" stroke-width="1.8" fill="none"/>
<polyline points="599,1046 769,1046 769,1152 632.5,1152" stroke-width="2.3"/>
<path d="M632.5,1152 L633,1191.7 A9.3,9.3 0 0 1 633.05,1210.3 L634,1407" stroke-width="2.3" fill="none"/>
<polyline points="634,1407 720,1407" stroke-width="2.3"/>
<polyline points="570,1021 585,1030 595,1021 812,1020 812,1144.5" stroke-width="2.3"/>
<line x1="796" y1="1144.5" x2="829.5" y2="1144.5" stroke-width="2.2"/>
<line x1="796" y1="1154" x2="829.5" y2="1154" stroke-width="2.2"/>
<polyline points="813,1154 814,1200" stroke-width="2.3"/>
<text transform="translate(819.5,1180.4) scale(0.8600,1)" font-size="23.26" stroke="#141414" stroke-width="0.2" fill="#141414">C</text>
<text transform="translate(835.46,1188.9) scale(0.8004,1)" font-size="23.98" stroke="#141414" stroke-width="0.2" fill="#141414">18</text>
<polyline points="814,1200 814,1242.5" stroke-width="2.3"/>
<line x1="799" y1="1242.5" x2="827.5" y2="1242.5" stroke-width="2.2"/>
<line x1="799" y1="1251" x2="827.5" y2="1251" stroke-width="2.2"/>
<polyline points="814.5,1251 815,1289.5" stroke-width="2.3"/>
<line x1="801" y1="1289.5" x2="829" y2="1289.5" stroke-width="2.2"/>
<line x1="808" y1="1296" x2="822" y2="1296" stroke-width="2.2"/>
<line x1="813" y1="1302.5" x2="817" y2="1302.5" stroke-width="2.2"/>
<text transform="translate(819.04,1277.8) scale(0.8583,1)" font-size="22.38" stroke="#141414" stroke-width="0.2" fill="#141414">C</text>
<text transform="translate(833.35,1289) scale(0.7996,1)" font-size="24.13" stroke="#141414" stroke-width="0.2" fill="#141414">19</text>
<ellipse cx="713.8" cy="1228.3" rx="11.2" ry="4" stroke-width="2.4"/>
<ellipse cx="713.8" cy="1253" rx="11.2" ry="4" stroke-width="2.4"/>
<ellipse cx="713.8" cy="1278" rx="11.2" ry="4" stroke-width="2.4"/>
<ellipse cx="713.8" cy="1303" rx="11.2" ry="4" stroke-width="2.4"/>
<ellipse cx="713.8" cy="1328" rx="11.2" ry="4" stroke-width="2.4"/>
<ellipse cx="713.8" cy="1353.5" rx="11.2" ry="4" stroke-width="2.4"/>
<ellipse cx="713.8" cy="1379" rx="11.2" ry="4" stroke-width="2.4"/>
<path d="M712.8,1200 C732.2,1200 732.8,1218.39 725,1228.3 C732.98,1233.24 732.98,1248.06 725,1253 C732.98,1258 732.98,1273 725,1278 C732.98,1283 732.98,1298 725,1303 C732.98,1308 732.98,1323 725,1328 C732.98,1333.1 732.98,1348.4 725,1353.5 C732.98,1358.6 732.98,1373.9 725,1379 C732.8,1388.8 732.2,1407 720,1407" stroke-width="2.4" fill="none"/>
<polyline points="632.5,1200 712.8,1200" stroke-width="2.3"/>
<ellipse cx="767.8" cy="1228.3" rx="10.6" ry="4" stroke-width="2.4"/>
<ellipse cx="767.8" cy="1253" rx="10.6" ry="4" stroke-width="2.4"/>
<ellipse cx="767.8" cy="1278" rx="10.6" ry="4" stroke-width="2.4"/>
<ellipse cx="767.8" cy="1303" rx="10.6" ry="4" stroke-width="2.4"/>
<ellipse cx="767.8" cy="1328" rx="10.6" ry="4" stroke-width="2.4"/>
<ellipse cx="767.8" cy="1353.5" rx="10.6" ry="4" stroke-width="2.4"/>
<ellipse cx="767.8" cy="1379" rx="10.6" ry="4" stroke-width="2.4"/>
<path d="M768,1200 C749.4,1200 748.75,1218.39 757.2,1228.3 C748.56,1233.24 748.56,1248.06 757.2,1253 C748.56,1258 748.56,1273 757.2,1278 C748.56,1283 748.56,1298 757.2,1303 C748.56,1308 748.56,1323 757.2,1328 C748.56,1333.1 748.56,1348.4 757.2,1353.5 C748.56,1358.6 748.56,1373.9 757.2,1379 C748.75,1388.8 749.4,1407 766,1407" stroke-width="2.4" fill="none"/>
<polyline points="768,1200 814,1200 935,1200" stroke-width="2.3"/>
<polyline points="766,1407 862.6,1407 862,1258" stroke-width="2.3"/>
<line x1="736.8" y1="1201.4" x2="738" y2="1405" stroke-width="1.8"/>
<line x1="746.2" y1="1201" x2="746.6" y2="1405" stroke-width="1.8"/>
<text transform="translate(734.91,1182.8) scale(0.8426,1)" font-size="23.11" stroke="#141414" stroke-width="0.2" fill="#141414">T</text>
<text transform="translate(745.87,1190.5) scale(1.1400,1)" font-size="22.53" stroke="#141414" stroke-width="0.2" fill="#141414">3</text>
<circle cx="970" cy="1258.5" r="86" stroke-width="2.1"/>
<rect x="935" y="1194" width="72" height="9" stroke-width="2"/>
<path d="M856,971 L857.5,990 L860.49,1190.2 A8.8,8.8 0 0 1 860.63,1207.8 L861.5,1258" stroke-width="2.3" fill="none"/>
<line x1="920" y1="1230.5" x2="1006" y2="1230.5" stroke-width="2.2" stroke-dasharray="9,5"/>
<line x1="932.5" y1="1258" x2="1006" y2="1258" stroke-width="2.2" stroke-dasharray="8,6"/>
<line x1="937.5" y1="1284.5" x2="1010" y2="1284.5" stroke-width="2.2" stroke-dasharray="9,5"/>
<polyline points="1010,1284.5 1127,1284" stroke-width="2.3"/>
<path d="M920.8,1231.3 L921.39,1253.2 A6.2,6.2 0 0 1 921.52,1265.6 L922.5,1311.9" stroke-width="1.8" fill="none"/>
<polyline points="922.5,1311.9 935,1311.9" stroke-width="1.8"/>
<polyline points="920.8,1231.3 930,1230.8" stroke-width="1.8"/>
<polyline points="862,1258 930,1258" stroke-width="2.3"/>
<polyline points="935,1312.5 1009,1312.5 1009,1322.5" stroke-width="3"/>
<polyline points="936,1312.5 936,1386" stroke-width="2.3"/>
<polyline points="937.2,1402.9 928.6,1406.49 945.8,1413.68 928.6,1420.86 945.8,1428.04 928.6,1435.22 945.8,1442.41 937.2,1446" stroke-width="2.4"/>
<polyline points="936.5,1385.7 937,1402.9" stroke-width="2.3"/>
<polyline points="938,1446 938,1461.3 938.5,1495" stroke-width="2.3"/>
<line x1="922.5" y1="1495" x2="954.5" y2="1495" stroke-width="2.2"/>
<line x1="928.5" y1="1501.5" x2="948.5" y2="1501.5" stroke-width="2.2"/>
<line x1="936.5" y1="1508" x2="940.5" y2="1508" stroke-width="2.2"/>
<polyline points="936,1386 992.5,1386 992.5,1418" stroke-width="2.3"/>
<line x1="976.2" y1="1417.8" x2="1010.7" y2="1417.8" stroke-width="2.2"/>
<line x1="976.2" y1="1427.8" x2="1010.7" y2="1427.8" stroke-width="2.2"/>
<polyline points="993,1427.8 993,1461.3 938,1461.3" stroke-width="2.3"/>
<text transform="translate(884.92,1434.9) scale(0.9386,1)" font-size="22.38" stroke="#141414" stroke-width="0.2" fill="#141414">R</text>
<text transform="translate(901.64,1444.2) scale(0.7278,1)" font-size="24.85" stroke="#141414" stroke-width="0.2" fill="#141414">13</text>
<text transform="translate(1000.72,1453) scale(0.8557,1)" font-size="22.82" stroke="#141414" stroke-width="0.2" fill="#141414">C</text>
<text transform="translate(1017.1,1461.1) scale(1.1634,1)" font-size="23.98" stroke="#141414" stroke-width="0.2" fill="#141414">20</text>
<text transform="translate(903.6,1533) scale(0.8568,1)" font-size="18.9" stroke="#141414" stroke-width="0.2" fill="#141414" style="font-style:italic">3</text>
<text transform="translate(925.56,1533) scale(0.6797,1)" font-size="18.9" stroke="#141414" stroke-width="0.2" fill="#141414" style="font-style:italic">2</text>
<text transform="translate(937.41,1533) scale(0.8165,1)" font-size="18.9" stroke="#141414" stroke-width="0.2" fill="#141414" style="font-style:italic">3</text>
<text transform="translate(958.87,1533) scale(0.9073,1)" font-size="18.9" stroke="#141414" stroke-width="0.2" fill="#141414" style="font-style:italic">3</text>
<text transform="translate(969.01,1533) scale(1.0282,1)" font-size="18.9" stroke="#141414" stroke-width="0.2" fill="#141414" style="font-style:italic">8</text>
<circle cx="919" cy="1526" r="1.2" fill="#141414" stroke="none"/>
<circle cx="953.6" cy="1526" r="1.4" fill="#141414" stroke="none"/>
<circle cx="83.5" cy="336.6" r="6" fill="#555" stroke="#151515" stroke-width="1.7"/>
<circle cx="87" cy="471" r="6" fill="#555" stroke="#151515" stroke-width="1.7"/>
<circle cx="91.4" cy="691" r="6" fill="#555" stroke="#151515" stroke-width="1.7"/>
<circle cx="96" cy="975" r="6" fill="#555" stroke="#151515" stroke-width="1.7"/>
<circle cx="49.5" cy="937.5" r="6" fill="#555" stroke="#151515" stroke-width="1.7"/>
<circle cx="250.6" cy="335.5" r="6" fill="#555" stroke="#151515" stroke-width="1.7"/>
<circle cx="253" cy="469.5" r="6" fill="#555" stroke="#151515" stroke-width="1.7"/>
<circle cx="262.5" cy="900.5" r="6" fill="#555" stroke="#151515" stroke-width="1.7"/>
<circle cx="581" cy="935" r="6" fill="#555" stroke="#151515" stroke-width="1.7"/>
<circle cx="421" cy="436" r="6" fill="#555" stroke="#151515" stroke-width="1.7"/>
<circle cx="422.5" cy="512.5" r="6" fill="#555" stroke="#151515" stroke-width="1.7"/>
<circle cx="617.3" cy="351.4" r="6" fill="#555" stroke="#151515" stroke-width="1.7"/>
<circle cx="619.8" cy="485.2" r="6" fill="#555" stroke="#151515" stroke-width="1.7"/>
<circle cx="624.5" cy="741" r="6" fill="#555" stroke="#151515" stroke-width="1.7"/>
<circle cx="783" cy="351" r="6" fill="#555" stroke="#151515" stroke-width="1.7"/>
<circle cx="786" cy="484" r="6" fill="#555" stroke="#151515" stroke-width="1.7"/>
<circle cx="789" cy="619.5" r="6" fill="#555" stroke="#151515" stroke-width="1.7"/>
<circle cx="842" cy="483" r="6" fill="#555" stroke="#151515" stroke-width="1.7"/>
<circle cx="896.5" cy="484" r="6" fill="#555" stroke="#151515" stroke-width="1.7"/>
<circle cx="953.5" cy="483" r="6" fill="#555" stroke="#151515" stroke-width="1.7"/>
<circle cx="843.7" cy="558.3" r="6" fill="#555" stroke="#151515" stroke-width="1.7"/>
<circle cx="956" cy="618" r="6" fill="#555" stroke="#151515" stroke-width="1.7"/>
<circle cx="322.5" cy="974" r="6" fill="#555" stroke="#151515" stroke-width="1.7"/>
<circle cx="404" cy="973" r="6" fill="#555" stroke="#151515" stroke-width="1.7"/>
<circle cx="629" cy="971" r="6" fill="#555" stroke="#151515" stroke-width="1.7"/>
<circle cx="795" cy="970" r="6" fill="#555" stroke="#151515" stroke-width="1.7"/>
<circle cx="856" cy="971" r="6" fill="#555" stroke="#151515" stroke-width="1.7"/>
<circle cx="348.6" cy="607" r="6" fill="#555" stroke="#151515" stroke-width="1.7"/>
<circle cx="415" cy="742.5" r="6" fill="#555" stroke="#151515" stroke-width="1.7"/>
<circle cx="669.5" cy="785" r="6" fill="#555" stroke="#151515" stroke-width="1.7"/>
<circle cx="959" cy="784.5" r="6" fill="#555" stroke="#151515" stroke-width="1.7"/>
<circle cx="915.5" cy="784.5" r="6" fill="#555" stroke="#151515" stroke-width="1.7"/>
<circle cx="1119" cy="801" r="6" fill="#555" stroke="#151515" stroke-width="1.7"/>
<circle cx="1124" cy="967.5" r="6" fill="#555" stroke="#151515" stroke-width="1.7"/>
<circle cx="1127" cy="1284" r="6" fill="#555" stroke="#151515" stroke-width="1.7"/>
<circle cx="271" cy="1185.5" r="6" fill="#555" stroke="#151515" stroke-width="1.7"/>
<circle cx="326" cy="1185.5" r="6" fill="#555" stroke="#151515" stroke-width="1.7"/>
<circle cx="153" cy="1490" r="6" fill="#555" stroke="#151515" stroke-width="1.7"/>
<circle cx="814" cy="1200" r="6" fill="#555" stroke="#151515" stroke-width="1.7"/>
<circle cx="862" cy="1258" r="6" fill="#555" stroke="#151515" stroke-width="1.7"/>
<circle cx="936" cy="1386" r="6" fill="#555" stroke="#151515" stroke-width="1.7"/>
<circle cx="938" cy="1461.3" r="6" fill="#555" stroke="#151515" stroke-width="1.7"/>
</g></svg></body></html>
